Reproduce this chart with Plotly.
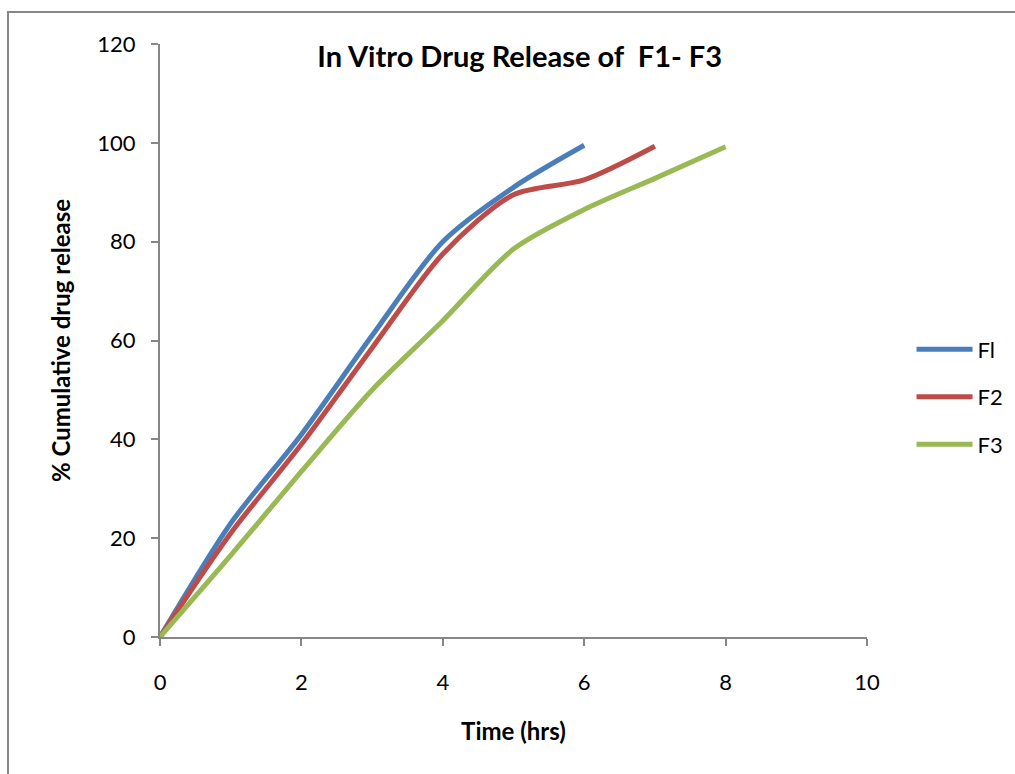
import plotly.graph_objects as go

# Release profiles (time in hours, cumulative % released)
time_f1 = [0, 1, 2, 3, 4, 5, 6]
release_f1 = [0, 23, 41, 61, 80, 91, 99.5]

time_f2 = [0, 1, 2, 3, 4, 5, 6, 7]
release_f2 = [0, 21, 39, 58.5, 77.5, 89.5, 92.5, 99.3]

time_f3 = [0, 1, 2, 3, 4, 5, 6, 7, 8]
release_f3 = [0, 16.5, 33.5, 50, 64, 78.5, 86.5, 92.8, 99.2]

series = [
    ("Fl", time_f1, release_f1, "#4A7EBB"),
    ("F2", time_f2, release_f2, "#BE4B48"),
    ("F3", time_f3, release_f3, "#98B954"),
]

FONT = "Lato"
AXIS_GREY = "#868686"

fig = go.Figure()
for i, (name, xs, ys, color) in enumerate(series):
    fig.add_trace(go.Scatter(
        x=xs, y=ys, name=name, mode="lines",
        line=dict(color=color, width=5, shape="spline", smoothing=0.8),
        legendgroup=f"g{i}",
    ))

fig.update_layout(
    width=1015, height=774,
    margin=dict(l=160, r=148, t=44, b=137, autoexpand=False),
    paper_bgcolor="white", plot_bgcolor="white",
    font=dict(family=FONT, size=22, color="black"),
    title=dict(
        text="<b>In Vitro Drug Release of  F1- F3</b>",
        x=0.512, xanchor="center", y=0.927, yanchor="middle",
        font=dict(family=FONT, size=29, color="black"),
    ),
    legend=dict(
        x=1.063, xanchor="left", y=0.405, yanchor="middle",
        font=dict(family=FONT, size=22, color="black"),
        tracegroupgap=16, itemwidth=56,
        bgcolor="rgba(0,0,0,0)",
    ),
    shapes=[dict(
        type="rect", xref="paper", yref="paper",
        x0=-152 / 707, x1=(1020 - 160) / 707,
        y0=-(790 - 637) / 593, y1=(637 - 12) / 593,
        line=dict(color=AXIS_GREY, width=2), fillcolor="rgba(0,0,0,0)",
        layer="below",
    )],
)

fig.update_xaxes(
    range=[0, 10], tickvals=[0, 2, 4, 6, 8, 10],
    showgrid=False, zeroline=False,
    showline=True, linecolor=AXIS_GREY, linewidth=2,
    ticks="outside", ticklen=7, tickcolor=AXIS_GREY, tickwidth=2,
    ticklabelstandoff=18,
    tickfont=dict(family=FONT, size=22, color="black"),
    title=dict(text="<b>Time (hrs)</b>", standoff=29,
               font=dict(family=FONT, size=24, color="black")),
)
fig.update_yaxes(
    range=[0, 120], tickvals=[0, 20, 40, 60, 80, 100, 120],
    showgrid=False, zeroline=False,
    showline=True, linecolor=AXIS_GREY, linewidth=2,
    ticks="outside", ticklen=7, tickcolor=AXIS_GREY, tickwidth=2,
    ticklabelstandoff=11,
    tickfont=dict(family=FONT, size=22, color="black"),
    title=dict(text="<b>% Cumulative drug release</b>", standoff=20,
               font=dict(family=FONT, size=24, color="black")),
)

fig.write_html("out.html")
